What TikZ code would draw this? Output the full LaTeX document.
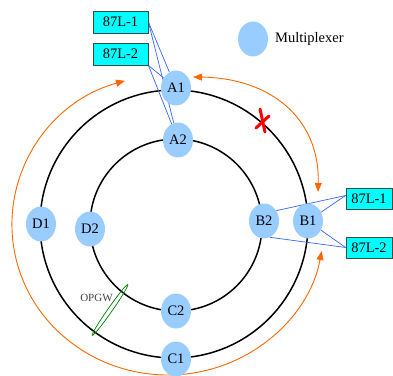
\documentclass[tikz,border=0pt]{standalone}
\usepackage{fontspec}
\setmainfont{Liberation Serif}
\usetikzlibrary{shapes.geometric,arrows.meta,backgrounds}
\definecolor{muxblue}{RGB}{153,204,255}
\definecolor{lnkblue}{RGB}{51,102,255}
\definecolor{orng}{RGB}{255,102,0}
\definecolor{grn}{RGB}{0,128,0}
\definecolor{boxline}{RGB}{51,77,77}
\definecolor{relaycyan}{RGB}{0,255,255}
\begin{document}
\begin{tikzpicture}[x=1pt,y=1pt,
  mux/.style={ellipse, fill=muxblue, minimum width=30pt, minimum height=35pt, inner sep=0pt, font=\fontsize{14.5}{16}\selectfont},
  relay/.style={rectangle, fill=relaycyan, draw=boxline, line width=0.8pt, minimum width=55pt, minimum height=22pt, inner sep=0pt, font=\fontsize{14.5}{16}\selectfont},
  ringline/.style={draw=black, line width=1.5pt},
  fiber/.style={draw=lnkblue, line width=0.7pt},
  protpath/.style={draw=orng, line width=0.9pt, {Triangle[length=9pt,width=7pt]}-{Triangle[length=9pt,width=7pt]}},
  fault/.style={draw=red, line width=3pt, line cap=round},
]
\useasboundingbox (0,0) rectangle (393,375);

% multiplexer nodes
\node[mux] (A1) at (176,287) {A1};
\node[mux] (A2) at (178,235) {A2};
\node[mux] (B1) at (308,154) {B1};
\node[mux] (B2) at (264,154) {B2};
\node[mux] (C1) at (176,16) {C1};
\node[mux] (C2) at (176,64) {C2};
\node[mux] (D1) at (41,151) {D1};
\node[mux] (D2) at (90,146) {D2};

% legend
\node[mux] (leg) at (253,336) {};
\node[anchor=west, inner sep=0pt, font=\fontsize{14.5}{16}\selectfont] (legt) at (275,336) {Multiplexer};

% relays
\node[relay] (L1) at (120.5,353) {87L-1};
\node[relay] (L2) at (120.5,321) {87L-2};
\node[relay, minimum width=46pt, minimum height=21pt] (R1) at (369,176.5) {87L-1};
\node[relay, minimum width=46pt, minimum height=21pt] (R2) at (369,127.5) {87L-2};

% OPGW label
\node[text=black!75, font=\fontsize{11}{12}\selectfont, inner sep=0pt] (opgw) at (96.5,77) {OPGW};

\begin{scope}[on background layer]
  % protection paths
  \coordinate (o1a) at (125,294.2);
  \draw[protpath] (o1a) arc[start angle=106, end angle=350, x radius=156pt, y radius=150pt];
  \coordinate (o2a) at (193,298);
  \coordinate (o2b) at (318,183);
  \draw[protpath] (o2a) .. controls (270,297) and (320,257) .. (o2b);

  % rings
  \draw[ringline] (174,151) circle[radius=134pt];
  \draw[ringline] (176,150) circle[radius=86pt];

  % relay links
  \draw[fiber] (L1.east) -- (A1);
  \draw[fiber] (L1.east) -- (A2);
  \draw[fiber] (L2.south east) -- (A1);
  \draw[fiber] (L2.south east) -- (A2);
  \draw[fiber] ([yshift=3pt]R1.west) -- (B1);
  \draw[fiber] ([yshift=3pt]R1.west) -- (B2.40);
  \draw[fiber] (R2.west) -- (B1);
  \draw[fiber] (R2.west) -- (B2.-70);

  % OPGW cable mark
  \draw[grn, line width=0.7pt] (110,65) ellipse[x radius=31pt, y radius=2.2pt, rotate=55];

  % fault mark
  \coordinate (f1) at (260,266);
  \coordinate (f2) at (265,243);
  \coordinate (f3) at (256,247);
  \coordinate (f4) at (269,259);
  \draw[fault] (f1) -- (f2);
  \draw[fault] (f3) -- (f4);
\end{scope}
\end{tikzpicture}
\end{document}
